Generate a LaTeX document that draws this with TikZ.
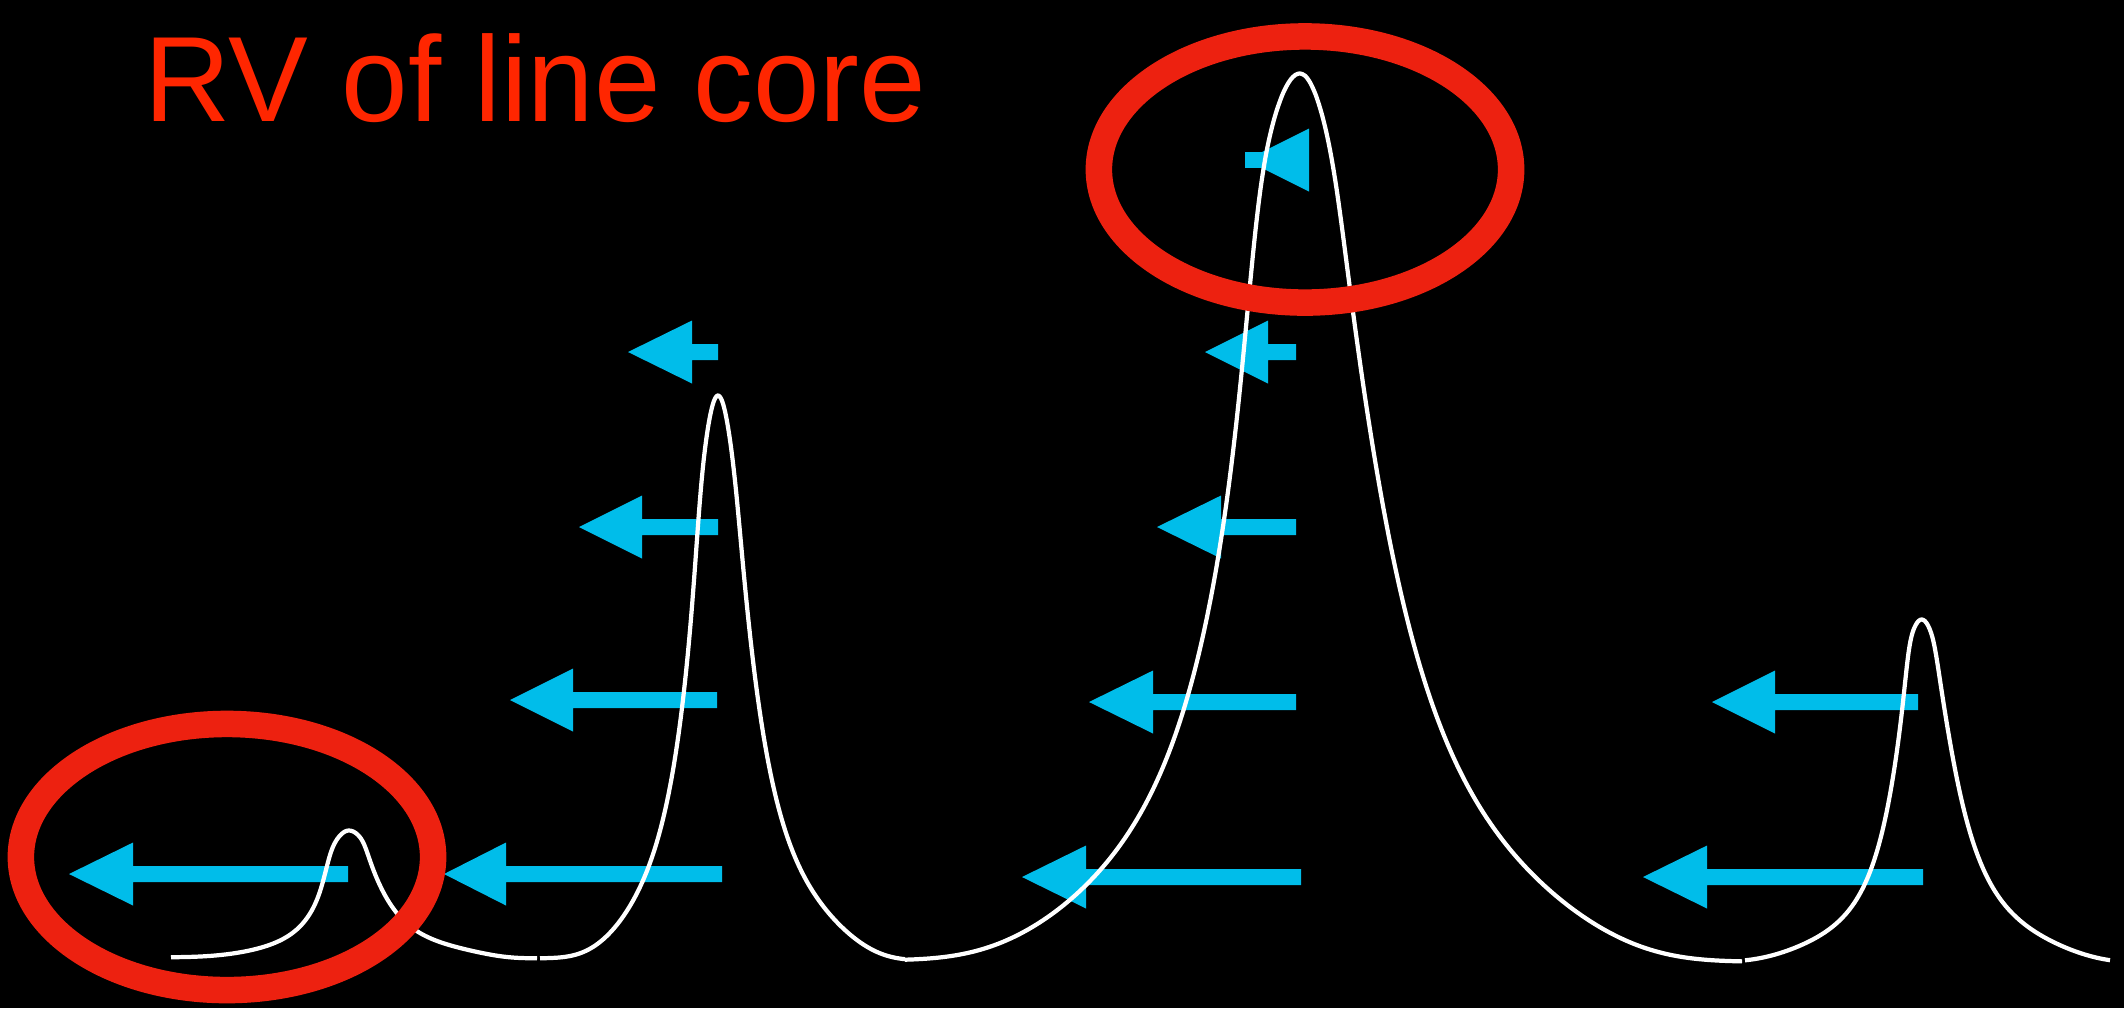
\documentclass[tikz,border=0pt]{standalone}
\usepackage{fontspec}
\setmainfont{Liberation Sans}
\definecolor{ringred}{RGB}{237,33,16}
\definecolor{titlered}{RGB}{255,38,0}
\definecolor{arrowcyan}{RGB}{0,189,234}
% left-pointing block arrow: tip x, head-base x, tail x, y
\newcommand\RVarrow[4]{%
  \fill[arrowcyan] (#1,#4) -- (#2,#4-31.5) -- (#2,#4-8) -- (#3,#4-8)
    -- (#3,#4+8) -- (#2,#4+8) -- (#2,#4+31.5) -- cycle;}
\begin{document}
\begin{tikzpicture}[x=0.01cm,y=-0.01cm,
  declare function={
    tsig(\ZW,\ZC)=(min(\ZW/\ZC,4))^6/(1+(min(\ZW/\ZC,4))^6);
    prof(\ZU,\ZG,\ZR,\ZC,\ZD,\ZQ)=exp(-min(((abs(\ZU)+0.1)/\ZD)^\ZQ,20))/
      (1+(\ZU/\ZG)*(\ZU/\ZG)*(\ZR+(1-\ZR)*tsig(abs(\ZU)+0.1,\ZC)));},
  curve/.style={white,line width=1.2pt,line join=round,line cap=butt},
  ring/.style={draw=ringred,line width=7.54pt}]
\fill[black] (0,0) rectangle (2124,1008);
\useasboundingbox (0,0) rectangle (2124,1008);

\node[anchor=base west,inner sep=0pt,text=titlered,
      font=\fontsize{34.5pt}{40pt}\selectfont] (title) at (144,121.5)
      {\scalebox{0.985}[1]{RV of line core}};

% arrows, left column
\RVarrow{628}{692}{718}{352}
\RVarrow{579}{642}{718}{527}
\RVarrow{510}{573}{717}{700}
\RVarrow{444}{506}{722}{874}
\RVarrow{69}{133}{348}{874}
% middle column
\fill[arrowcyan] (1309,128.5) -- (1309,191.5) -- (1246,160) -- cycle;
\fill[arrowcyan] (1245,152) rectangle (1264,168);
\RVarrow{1205}{1268}{1296}{352}
\RVarrow{1157}{1221}{1296}{527}
\RVarrow{1089}{1153}{1296}{702}
\RVarrow{1022}{1086}{1301}{877}
% right column
\RVarrow{1712}{1775}{1918}{702}
\RVarrow{1643}{1707}{1923}{877}

% line profiles (white)
\draw[curve]
  plot[domain=171:349,samples=110,smooth]
    (\x,{957.3-126.8*prof(\x-349,28,0.4,24,131.6,4.2)})
  -- plot[domain=349:537,samples=110,smooth]
    (\x,{958.3-127.8*prof(\x-349,35.4,0.55,18,148.7,7)});
\draw[curve]
  plot[domain=540:718,samples=130,smooth]
    (\x,{958.3-562.8*prof(\x-718,32.1,0.62,21.5,122,4.5)})
  -- plot[domain=718:905,samples=130,smooth]
    (\x,{960.3-564.8*prof(\x-718,37,0.81,22,152.6,5.3)});
\draw[curve]
  plot[domain=905:1300,samples=170,smooth]
    (\x,{960.3-886.8*prof(\x-1300,73.5,0.43,52.5,296,4.7)})
  -- plot[domain=1300:1742,samples=170,smooth]
    (\x,{961.7-888.2*prof(\x-1300,85.1,0.725,42,327,5)});
\draw[curve]
  plot[domain=1745:1921.7,samples=120,smooth]
    (\x,{961.7-342.2*prof(\x-1921.7,30.9,0.43,15.5,156.3,5.5)})
  -- plot[domain=1921.7:2110,samples=120,smooth]
    (\x,{962.7-343.2*prof(\x-1921.7,37.8,0.64,15,171.7,5.5)});

% red rings
\draw[ring] (1305,169.5) ellipse [x radius=2.06cm, y radius=1.33cm];
\draw[ring] (227,857) ellipse [x radius=2.06cm, y radius=1.33cm];
\end{tikzpicture}
\end{document}
